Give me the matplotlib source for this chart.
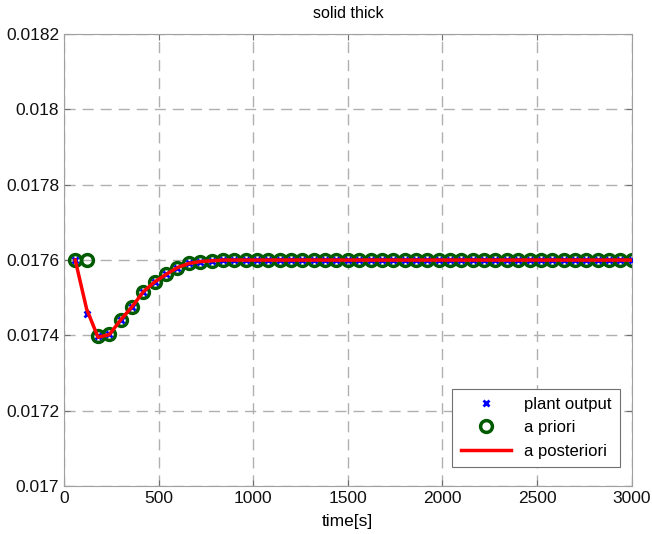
import numpy as np
import matplotlib
matplotlib.use("Agg")
import matplotlib.pyplot as plt

plt.rcParams['font.family'] = ['Liberation Sans', 'DejaVu Sans']

time = [60 * (i + 1) for i in range(50)]

plant_output = [0.017600, 0.017458, 0.017398, 0.017403, 0.017441, 0.017476,
                0.017516, 0.017542, 0.017562, 0.017580, 0.017591, 0.017596,
                0.017598] + [0.017600] * 37
a_priori = [0.017600, 0.017600, 0.017398, 0.017403, 0.017441, 0.017476,
            0.017516, 0.017542, 0.017562, 0.017580, 0.017591, 0.017596,
            0.017598] + [0.017600] * 37
a_posteriori = [0.017600, 0.017470, 0.017395, 0.017402, 0.017441, 0.017476,
                0.017516, 0.017542, 0.017562, 0.017580, 0.017591, 0.017596,
                0.017598] + [0.017600] * 37

xticks = [0, 500, 1000, 1500, 2000, 2500, 3000]
yticks = [0.017, 0.0172, 0.0174, 0.0176, 0.0178, 0.018, 0.0182]
ytick_labels = ['0.017', '0.0172', '0.0174', '0.0176', '0.0178', '0.018', '0.0182']

fig = plt.figure(figsize=(6.52, 5.34), dpi=100)
ax = fig.add_axes([0.098, 0.09, 0.871, 0.846])

ax.plot(time, plant_output, linestyle='none', marker='x', color='#0000ff',
        markersize=4, markeredgewidth=2, label='plant output', zorder=3)
ax.plot(time, a_priori, linestyle='none', marker='o', markerfacecolor='none',
        markeredgecolor='#005a00', markersize=8.5, markeredgewidth=2.5,
        label='a priori', zorder=2)
ax.plot(time, a_posteriori, color='#ff0000', linewidth=2.5,
        label='a posteriori', zorder=4)

ax.set_xlim(0, 3000)
ax.set_ylim(0.017, 0.0182)
ax.set_xticks(xticks)
ax.set_xticklabels([str(v) for v in xticks])
ax.set_yticks(yticks)
ax.set_yticklabels(ytick_labels)
ax.tick_params(direction='in', length=4, color='#707070', labelsize=12.5,
               top=True, right=True, labelcolor='#111111')
for s in ax.spines.values():
    s.set_color('#a0a0a0')
ax.grid(True, linestyle=(0, (8, 5)), color='#b0b0b0', linewidth=1)
ax.set_axisbelow(True)

ax.set_title('solid thick', fontsize=11.5, pad=12)
ax.set_xlabel('time[s]', fontsize=12.5, labelpad=6)

leg = ax.legend(loc='lower right', bbox_to_anchor=(0.979, 0.042), fontsize=12,
                fancybox=False, edgecolor='#707070', framealpha=1,
                handlelength=3, borderpad=0.5, labelspacing=0.5,
                borderaxespad=0)
leg.get_frame().set_linewidth(0.8)

fig.savefig('out.png', dpi=100)
